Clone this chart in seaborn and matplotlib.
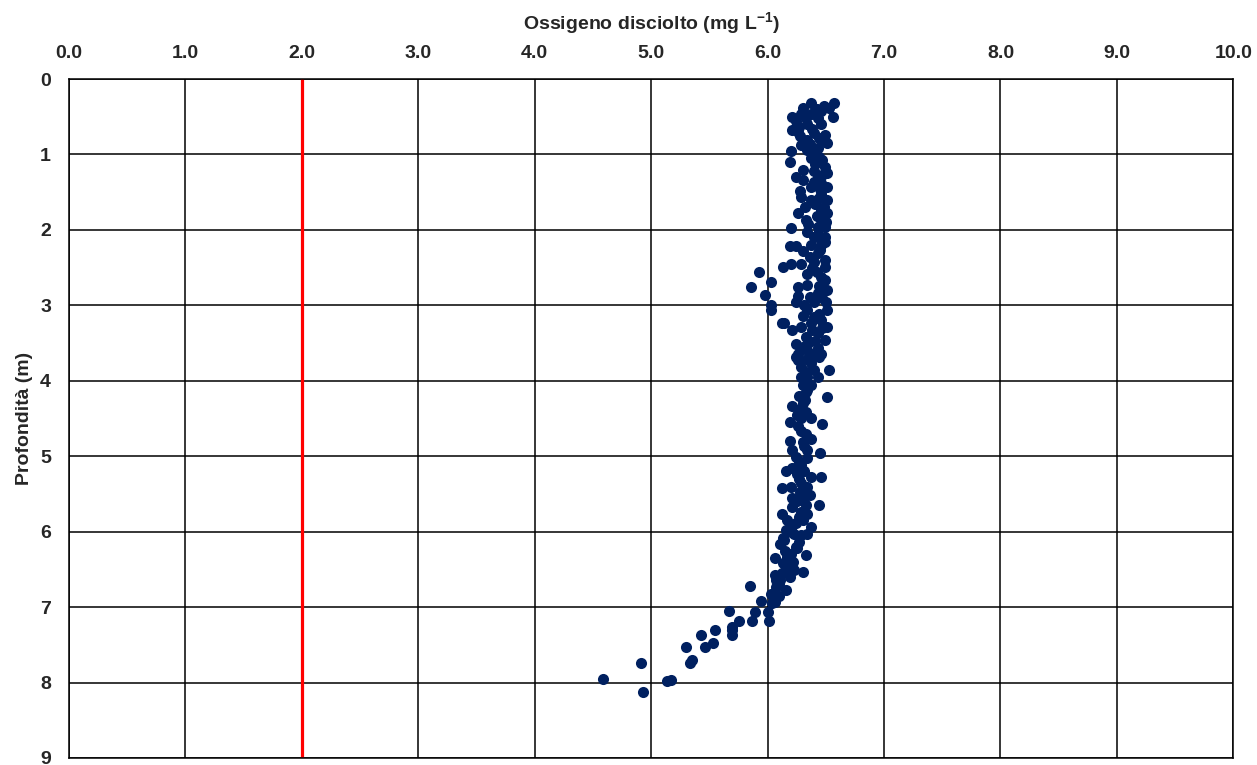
import numpy as np
import pandas as pd
import matplotlib
matplotlib.use("Agg")
import matplotlib.pyplot as plt
import seaborn as sns

# ---- data (oxygen in mg/L, depth in m) ----
oxy_a = [6.37, 6.57, 6.53, 6.46, 6.56, 6.30, 6.21, 6.29, 6.37, 6.43, 6.21, 6.27, 6.34, 6.46, 6.40, 6.49,
         6.51, 6.46, 6.34, 6.29, 6.20, 6.34, 6.43, 6.24, 6.33, 6.42, 6.48, 6.26, 6.38, 6.44, 6.36, 6.40, 6.28]
dep_a = [0.32, 0.32, 0.39, 0.43, 0.50, 0.39, 0.50, 0.46, 0.46, 0.52, 0.68, 0.63, 0.59, 0.59, 0.72, 0.74,
         0.85, 0.81, 0.81, 0.88, 0.96, 0.94, 0.92, 0.55, 0.52, 0.40, 0.36, 0.70, 0.66, 0.78, 0.86, 0.98, 0.76]

oxy_b = [6.19, 6.37, 6.44, 6.49, 6.51, 6.24, 6.30, 6.43, 6.46, 6.37, 6.51, 6.29, 6.37, 6.46, 6.51, 6.26,
         6.33, 6.46, 6.51, 6.20, 6.43, 6.49, 6.46, 6.41, 6.47, 6.30, 6.40, 6.45, 6.41, 6.48, 6.42, 6.35,
         6.28, 6.40, 6.50, 6.44, 6.47, 6.32]
dep_b = [1.10, 1.05, 1.03, 1.16, 1.25, 1.30, 1.34, 1.30, 1.38, 1.43, 1.43, 1.56, 1.61, 1.52, 1.61, 1.78,
         1.87, 1.74, 1.78, 1.98, 1.96, 1.96, 1.87, 1.12, 1.08, 1.20, 1.22, 1.46, 1.66, 1.69, 1.82, 1.92,
         1.49, 1.36, 1.90, 1.58, 1.27, 1.70]

oxy_c = [6.34, 6.43, 6.49, 6.40, 6.19, 6.24, 6.37, 6.46, 6.49, 6.43, 6.36, 6.29, 6.20, 6.13, 6.49, 6.49,
         5.93, 6.03, 5.86, 5.98, 6.03, 6.03, 6.34, 6.42, 6.26, 6.34, 6.49, 6.51, 6.26, 6.36, 6.43, 6.24,
         6.31, 6.40, 6.50, 6.45, 6.40, 6.46, 6.44, 6.30, 6.47, 6.38, 6.46]
dep_c = [2.03, 2.05, 2.09, 2.09, 2.22, 2.22, 2.20, 2.20, 2.16, 2.31, 2.36, 2.45, 2.45, 2.49, 2.40, 2.49,
         2.56, 2.69, 2.76, 2.86, 3.00, 3.06, 2.58, 2.56, 2.76, 2.73, 2.67, 2.80, 2.87, 2.89, 2.84, 2.95,
         3.00, 2.95, 2.95, 2.27, 2.42, 2.62, 2.75, 2.28, 2.90, 2.50, 2.13]

oxy_d = [6.51, 6.34, 6.14, 6.12, 6.21, 6.29, 6.37, 6.46, 6.51, 6.24, 6.33, 6.43, 6.49, 6.26, 6.34, 6.43,
         6.46, 6.24, 6.34, 6.44, 6.29, 6.37, 6.53, 6.29, 6.34, 6.43, 6.30, 6.37, 6.40, 6.44, 6.30, 6.38,
         6.47, 6.35, 6.41, 6.30, 6.39, 6.40, 6.33, 6.26]
dep_d = [3.06, 3.06, 3.24, 3.24, 3.33, 3.29, 3.24, 3.20, 3.29, 3.51, 3.42, 3.37, 3.46, 3.64, 3.59, 3.57,
         3.64, 3.68, 3.71, 3.68, 3.82, 3.77, 3.86, 3.95, 3.95, 3.95, 4.06, 4.06, 3.15, 3.11, 3.14, 3.33,
         3.30, 3.50, 3.47, 3.55, 3.65, 3.86, 3.88, 3.73]

oxy_e = [6.34, 6.51, 6.21, 6.30, 6.33, 6.19, 6.29, 6.37, 6.47, 6.29, 6.33, 6.19, 6.30, 6.37, 6.21, 6.34,
         6.45, 6.24, 6.34, 6.16, 6.21, 6.31, 6.37, 6.27, 6.46, 6.12, 6.20, 6.29, 6.34, 6.21, 6.31, 6.36,
         6.21, 6.33, 6.44, 6.12, 6.29, 6.34, 6.17, 6.24, 6.30, 6.37, 6.16, 6.23, 6.29, 6.13, 6.27, 6.32,
         6.28, 6.26, 6.31, 6.27, 6.25, 6.28, 6.25, 6.27, 6.20, 6.33, 6.25, 6.29]
dep_e = [4.12, 4.21, 4.34, 4.30, 4.41, 4.54, 4.50, 4.50, 4.57, 4.66, 4.70, 4.80, 4.81, 4.77, 4.92, 4.92,
         4.96, 5.01, 5.03, 5.19, 5.16, 5.19, 5.27, 5.30, 5.27, 5.42, 5.41, 5.36, 5.41, 5.56, 5.54, 5.52,
         5.67, 5.65, 5.65, 5.76, 5.74, 5.76, 5.85, 5.89, 5.85, 5.94, 5.98, 6.03, 6.05, 6.09, 4.20, 4.25,
         4.38, 4.60, 4.86, 5.08, 5.24, 5.47, 5.60, 5.80, 5.95, 4.15, 4.45, 5.12]

oxy_f = [6.11, 6.14, 6.27, 6.34, 6.20, 6.06, 6.13, 6.17, 6.20, 6.16, 6.20, 6.23, 6.30, 6.33, 6.06, 6.07,
         6.11, 6.16, 6.03, 6.07, 6.06, 5.94, 5.85, 6.04, 6.00, 6.01, 5.89, 5.87, 6.10, 6.22, 6.15, 6.24,
         6.12, 6.19, 6.25, 6.10]
dep_f = [6.16, 6.11, 6.14, 6.03, 6.00, 6.35, 6.42, 6.34, 6.29, 6.49, 6.47, 6.51, 6.53, 6.31, 6.58, 6.64,
         6.64, 6.77, 6.82, 6.73, 6.93, 6.92, 6.72, 6.95, 7.07, 7.18, 7.07, 7.18, 6.70, 6.40, 6.25, 6.20,
         6.55, 6.60, 6.22, 6.85]

oxy_g = [5.67, 5.75, 5.69, 5.69, 5.69, 5.55, 5.53, 5.43, 5.46, 5.30, 5.33, 5.35, 5.14, 5.17, 4.91, 4.93, 4.59]
dep_g = [7.05, 7.18, 7.26, 7.31, 7.37, 7.30, 7.47, 7.37, 7.53, 7.53, 7.74, 7.70, 7.98, 7.97, 7.74, 8.12, 7.95]

x_ticks = [0, 1, 2, 3, 4, 5, 6, 7, 8, 9, 10]
x_tick_labels = ["0.0", "1.0", "2.0", "3.0", "4.0", "5.0", "6.0", "7.0", "8.0", "9.0", "10.0"]
y_ticks = [0, 1, 2, 3, 4, 5, 6, 7, 8, 9]
threshold = 2.0

df = pd.DataFrame({
    "oxygen": oxy_a + oxy_b + oxy_c + oxy_d + oxy_e + oxy_f + oxy_g,
    "depth": dep_a + dep_b + dep_c + dep_d + dep_e + dep_f + dep_g,
})

sns.set_style("white")
plt.rcParams["font.family"] = ["Liberation Sans", "DejaVu Sans"]
plt.rcParams["font.weight"] = "bold"
plt.rcParams["mathtext.fontset"] = "custom"
plt.rcParams["mathtext.rm"] = "Liberation Sans:bold"
plt.rcParams["mathtext.bf"] = "Liberation Sans:bold"
plt.rcParams["mathtext.it"] = "Liberation Sans:bold"

fig = plt.figure(figsize=(12.57, 7.65), dpi=100)
ax = fig.add_axes([0.0549, 0.0092, 0.9263, 0.8875])

ax.grid(True, color="black", linewidth=1.1)
ax.set_axisbelow(True)
ax.axvline(threshold, color="#FF0000", linewidth=2.3, zorder=2)

sns.scatterplot(data=df, x="oxygen", y="depth", ax=ax, color="#002060",
                s=64, linewidth=0, zorder=3, legend=False)

ax.set_xlim(0, 10)
ax.set_ylim(9, 0)
ax.xaxis.tick_top()
ax.xaxis.set_label_position("top")
ax.set_xticks(x_ticks)
ax.set_xticklabels(x_tick_labels)
ax.set_yticks(y_ticks)
ax.tick_params(axis="both", length=0, labelsize=14)
ax.tick_params(axis="x", pad=12)
ax.tick_params(axis="y", pad=13)
for lab in ax.get_xticklabels() + ax.get_yticklabels():
    lab.set_fontweight("bold")

ax.set_xlabel(r"Ossigeno disciolto (mg L$^{-1}$)", fontsize=14, fontweight="bold", labelpad=12)
ax.set_ylabel("Profondità (m)", fontsize=14, fontweight="bold", labelpad=5)

for sp in ax.spines.values():
    sp.set_color("black")
    sp.set_linewidth(1.1)

fig.savefig("out.png", dpi=100)
